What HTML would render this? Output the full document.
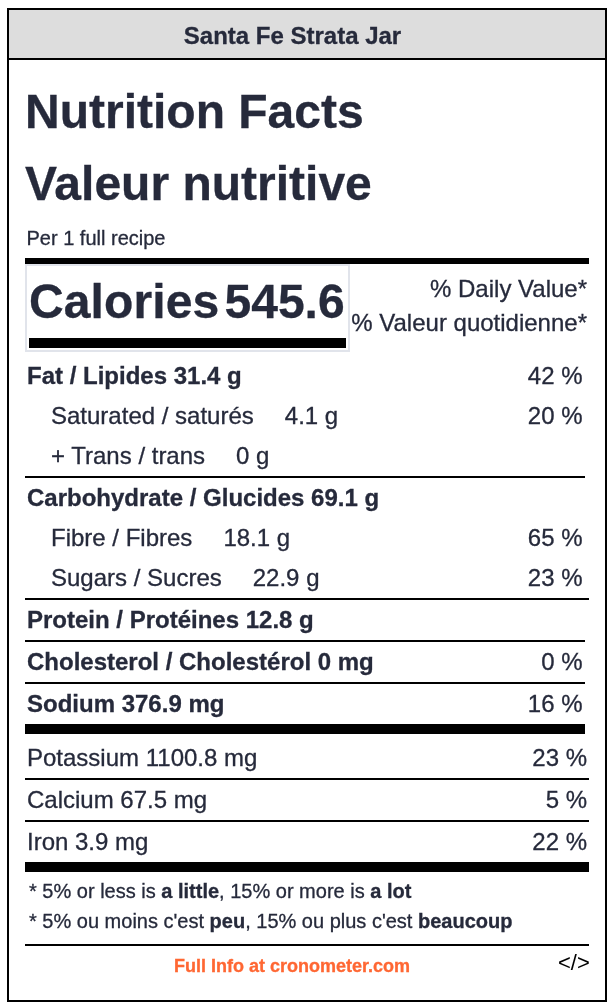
<!DOCTYPE html>
<html>
<head>
<meta charset="utf-8">
<title>Nutrition Facts</title>
<style>
html,body{margin:0;padding:0;background:#fff;}
body{width:614px;height:1008px;position:relative;overflow:hidden;font-family:"Liberation Sans",Arial,Helvetica,sans-serif;color:#262a3b;-webkit-text-stroke:0.3px #262a3b;}
#box{position:absolute;left:7px;top:8px;width:596px;height:990px;border:2px solid #000;background:#fff;}
#hdr{position:absolute;left:0;top:0;width:596px;height:48px;background:#ddd;border-bottom:2px solid #000;box-sizing:content-box;text-align:center;font-weight:bold;font-size:24px;line-height:51px;height:48px;text-indent:-29px;overflow:hidden;}
.abs{position:absolute;white-space:nowrap;}
.h1{left:25px;font-size:48px;font-weight:bold;line-height:56px;}
.rule{position:absolute;left:25px;width:564px;background:#000;}
.rule.s{width:560px;}
.row{position:absolute;left:25px;width:564px;height:40px;line-height:40px;font-size:24px;white-space:nowrap;padding-left:2px;box-sizing:border-box;}
.row b{font-weight:bold;}
.row .v{position:absolute;right:6.5px;top:0;}
.row.m .v{right:2px;}
.sub{padding-left:26px;}
.sub .amt{margin-left:31px;}
.fn{position:absolute;left:29px;font-size:20px;line-height:30px;white-space:nowrap;}
</style>
</head>
<body>
<div id="box"><div id="hdr">Santa Fe Strata Jar</div></div>

<div class="abs h1" style="top:83.5px;">Nutrition Facts</div>
<div class="abs h1" style="top:156px;">Valeur nutritive</div>
<div class="abs" style="left:26.5px;top:226px;font-size:20px;line-height:24px;">Per 1 full recipe</div>

<div class="rule" style="top:258px;height:6px;"></div>

<div class="abs" style="left:25px;top:264px;width:321px;height:84px;border:2px solid #e1e4eb;"></div>
<div class="abs" style="left:29px;top:338px;width:317px;height:10px;background:#000;"></div>
<div class="abs" style="left:29px;top:272px;font-size:48px;font-weight:bold;line-height:60px;letter-spacing:0.1px;">Calories</div>
<div class="abs" style="left:224.5px;top:271.5px;font-size:48px;font-weight:bold;line-height:60px;">545.6</div>
<div class="abs" style="right:27px;top:274px;font-size:24px;line-height:30px;text-align:right;">% Daily Value*</div>
<div class="abs" style="right:27px;top:308px;font-size:24px;line-height:30px;text-align:right;">% Valeur quotidienne*</div>

<div class="row" style="top:356px;"><b>Fat / Lipides 31.4 g</b><span class="v">42 %</span></div>
<div class="row sub" style="top:396px;">Saturated / saturés<span class="amt">4.1 g</span><span class="v">20 %</span></div>
<div class="row sub" style="top:436px;">+ Trans / trans<span class="amt">0 g</span></div>
<div class="rule s" style="top:476px;height:2px;"></div>
<div class="row" style="top:478px;"><b>Carbohydrate / Glucides 69.1 g</b></div>
<div class="row sub" style="top:518px;">Fibre / Fibres<span class="amt">18.1 g</span><span class="v">65 %</span></div>
<div class="row sub" style="top:558px;">Sugars / Sucres<span class="amt">22.9 g</span><span class="v">23 %</span></div>
<div class="rule" style="top:598px;height:2px;"></div>
<div class="row" style="top:600px;"><b>Protein / Protéines 12.8 g</b></div>
<div class="rule s" style="top:640px;height:2px;"></div>
<div class="row" style="top:642px;"><b>Cholesterol / Cholestérol 0 mg</b><span class="v">0 %</span></div>
<div class="rule s" style="top:682px;height:2px;"></div>
<div class="row" style="top:684px;"><b>Sodium 376.9 mg</b><span class="v">16 %</span></div>
<div class="rule s" style="top:724px;height:10px;"></div>
<div class="row m" style="top:738px;">Potassium 1100.8 mg<span class="v">23 %</span></div>
<div class="rule" style="top:778px;height:2px;"></div>
<div class="row m" style="top:780px;">Calcium 67.5 mg<span class="v">5 %</span></div>
<div class="rule" style="top:820px;height:2px;"></div>
<div class="row m" style="top:822px;">Iron 3.9 mg<span class="v">22 %</span></div>
<div class="rule" style="top:862px;height:10px;"></div>

<div class="fn" style="top:876px;">* 5% or less is <b>a little</b>, 15% or more is <b>a lot</b></div>
<div class="fn" style="top:906px;">* 5% ou moins c'est <b>peu</b>, 15% ou plus c'est <b>beaucoup</b></div>
<div class="rule" style="top:944px;height:2px;"></div>
<div class="abs" style="left:25px;width:534px;top:954px;text-align:center;font-size:18px;font-weight:bold;line-height:24px;color:#ff6733;-webkit-text-stroke:0.3px #ff6733;">Full Info at cronometer.com</div>
<div class="abs" style="left:558px;top:951px;font-size:22px;line-height:24px;color:#000;-webkit-text-stroke:0;">&lt;/&gt;</div>
</body>
</html>
